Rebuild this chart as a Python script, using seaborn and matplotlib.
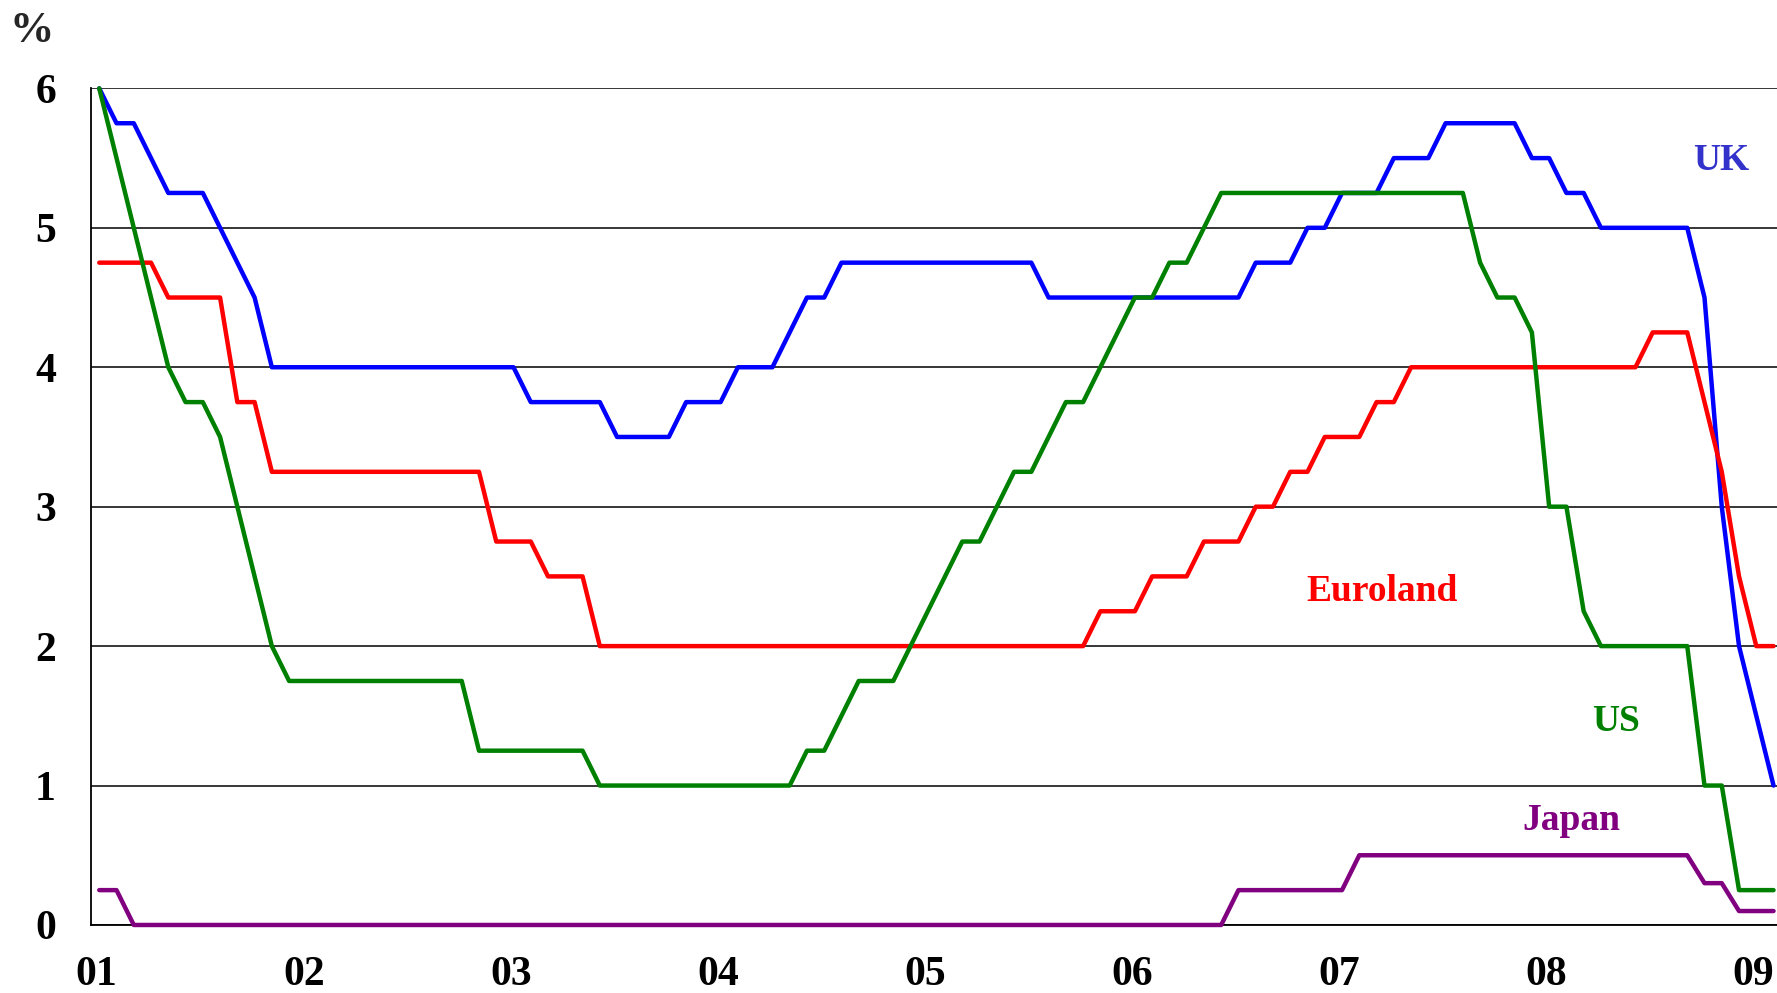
import numpy as np
import pandas as pd
import matplotlib
matplotlib.use("Agg")
import matplotlib.pyplot as plt
import matplotlib.transforms as mtransforms
import seaborn as sns

# monthly policy rates in %, Jan 2001 .. Feb 2009 (one row per year)
uk = [
    6.0, 5.75, 5.75, 5.5, 5.25, 5.25, 5.25, 5.0, 4.75, 4.5, 4.0, 4.0,
    4.0, 4.0, 4.0, 4.0, 4.0, 4.0, 4.0, 4.0, 4.0, 4.0, 4.0, 4.0,
    4.0, 3.75, 3.75, 3.75, 3.75, 3.75, 3.5, 3.5, 3.5, 3.5, 3.75, 3.75,
    3.75, 4.0, 4.0, 4.0, 4.25, 4.5, 4.5, 4.75, 4.75, 4.75, 4.75, 4.75,
    4.75, 4.75, 4.75, 4.75, 4.75, 4.75, 4.75, 4.5, 4.5, 4.5, 4.5, 4.5,
    4.5, 4.5, 4.5, 4.5, 4.5, 4.5, 4.5, 4.75, 4.75, 4.75, 5.0, 5.0,
    5.25, 5.25, 5.25, 5.5, 5.5, 5.5, 5.75, 5.75, 5.75, 5.75, 5.75, 5.5,
    5.5, 5.25, 5.25, 5.0, 5.0, 5.0, 5.0, 5.0, 5.0, 4.5, 3.0, 2.0,
    1.5, 1.0,
]
euroland = [
    4.75, 4.75, 4.75, 4.75, 4.5, 4.5, 4.5, 4.5, 3.75, 3.75, 3.25, 3.25,
    3.25, 3.25, 3.25, 3.25, 3.25, 3.25, 3.25, 3.25, 3.25, 3.25, 3.25, 2.75,
    2.75, 2.75, 2.5, 2.5, 2.5, 2.0, 2.0, 2.0, 2.0, 2.0, 2.0, 2.0,
    2.0, 2.0, 2.0, 2.0, 2.0, 2.0, 2.0, 2.0, 2.0, 2.0, 2.0, 2.0,
    2.0, 2.0, 2.0, 2.0, 2.0, 2.0, 2.0, 2.0, 2.0, 2.0, 2.25, 2.25,
    2.25, 2.5, 2.5, 2.5, 2.75, 2.75, 2.75, 3.0, 3.0, 3.25, 3.25, 3.5,
    3.5, 3.5, 3.75, 3.75, 4.0, 4.0, 4.0, 4.0, 4.0, 4.0, 4.0, 4.0,
    4.0, 4.0, 4.0, 4.0, 4.0, 4.0, 4.25, 4.25, 4.25, 3.75, 3.25, 2.5,
    2.0, 2.0,
]
us = [
    6.0, 5.5, 5.0, 4.5, 4.0, 3.75, 3.75, 3.5, 3.0, 2.5, 2.0, 1.75,
    1.75, 1.75, 1.75, 1.75, 1.75, 1.75, 1.75, 1.75, 1.75, 1.75, 1.25, 1.25,
    1.25, 1.25, 1.25, 1.25, 1.25, 1.0, 1.0, 1.0, 1.0, 1.0, 1.0, 1.0,
    1.0, 1.0, 1.0, 1.0, 1.0, 1.25, 1.25, 1.5, 1.75, 1.75, 1.75, 2.0,
    2.25, 2.5, 2.75, 2.75, 3.0, 3.25, 3.25, 3.5, 3.75, 3.75, 4.0, 4.25,
    4.5, 4.5, 4.75, 4.75, 5.0, 5.25, 5.25, 5.25, 5.25, 5.25, 5.25, 5.25,
    5.25, 5.25, 5.25, 5.25, 5.25, 5.25, 5.25, 5.25, 4.75, 4.5, 4.5, 4.25,
    3.0, 3.0, 2.25, 2.0, 2.0, 2.0, 2.0, 2.0, 2.0, 1.0, 1.0, 0.25,
    0.25, 0.25,
]
japan = [
    0.25, 0.25, 0.0, 0.0, 0.0, 0.0, 0.0, 0.0, 0.0, 0.0, 0.0, 0.0,
    0.0, 0.0, 0.0, 0.0, 0.0, 0.0, 0.0, 0.0, 0.0, 0.0, 0.0, 0.0,
    0.0, 0.0, 0.0, 0.0, 0.0, 0.0, 0.0, 0.0, 0.0, 0.0, 0.0, 0.0,
    0.0, 0.0, 0.0, 0.0, 0.0, 0.0, 0.0, 0.0, 0.0, 0.0, 0.0, 0.0,
    0.0, 0.0, 0.0, 0.0, 0.0, 0.0, 0.0, 0.0, 0.0, 0.0, 0.0, 0.0,
    0.0, 0.0, 0.0, 0.0, 0.0, 0.0, 0.25, 0.25, 0.25, 0.25, 0.25, 0.25,
    0.25, 0.5, 0.5, 0.5, 0.5, 0.5, 0.5, 0.5, 0.5, 0.5, 0.5, 0.5,
    0.5, 0.5, 0.5, 0.5, 0.5, 0.5, 0.5, 0.5, 0.5, 0.3, 0.3, 0.1,
    0.1, 0.1,
]
year_labels = ["01", "02", "03", "04", "05", "06", "07", "08", "09"]

series = {"UK": uk, "Euroland": euroland, "US": us, "Japan": japan}
colors = {"UK": "#0000FF", "Euroland": "#FF0000", "US": "#008000", "Japan": "#800080"}
text_colors = {"UK": "#3333CC", "Euroland": "#FF0000", "US": "#008000", "Japan": "#800080"}

# long format, each month sits in the middle of its slot
frames = []
for name, vals in series.items():
    frames.append(pd.DataFrame({"month": np.arange(len(vals)) + 0.5,
                                "rate": vals, "country": name}))
df = pd.concat(frames, ignore_index=True)

sns.set_style("white")
plt.rcParams["font.family"] = ["Liberation Serif", "DejaVu Serif"]
plt.rcParams["font.weight"] = "bold"

fig = plt.figure(figsize=(17.77, 9.93), dpi=100)
ax = fig.add_axes([0.051, 0.0685, 0.949, 0.8425])

sns.lineplot(data=df, x="month", y="rate", hue="country", palette=colors,
             hue_order=list(series.keys()), linewidth=3.2, legend=False,
             ax=ax, clip_on=False, zorder=3)

ax.set_xlim(0, 97.7)
ax.set_ylim(0, 6)
ax.set_xlabel("")
ax.set_ylabel("")

ax.set_yticks(range(7))
ax.set_yticklabels([str(v) for v in range(7)], fontsize=30, fontweight="bold")
ax.set_xticks(np.arange(len(year_labels)) * 12)
ax.set_xticklabels(year_labels, fontsize=30, fontweight="bold")
ax.tick_params(axis="y", direction="in", length=10, width=1.2, pad=25, colors="black")
ax.tick_params(axis="x", direction="in", length=10, width=1.2, pad=22, colors="black")

# labels sit a little right of their ticks in the original
shift = mtransforms.ScaledTranslation(6 / 100, 0, fig.dpi_scale_trans)
for lab in ax.get_xticklabels():
    lab.set_transform(lab.get_transform() + shift)

ax.yaxis.grid(True, color="black", linewidth=1.1)
ax.xaxis.grid(False)
for side in ["top", "right"]:
    ax.spines[side].set_visible(False)
for side in ["left", "bottom"]:
    ax.spines[side].set_color("black")
    ax.spines[side].set_linewidth(1.3)

# series names
label_pos = {"UK": (94.45, 5.48), "Euroland": (74.8, 2.39),
             "US": (88.4, 1.46), "Japan": (85.8, 0.75)}
for name, (lx, ly) in label_pos.items():
    ax.text(lx, ly, name, color=text_colors[name], fontsize=27,
            fontweight="bold", ha="center", va="center")

fig.text(32 / 1777, 1 - 31 / 993, "%", fontsize=32, fontweight="bold",
         ha="center", va="center")

fig.savefig("out.png", dpi=100)
